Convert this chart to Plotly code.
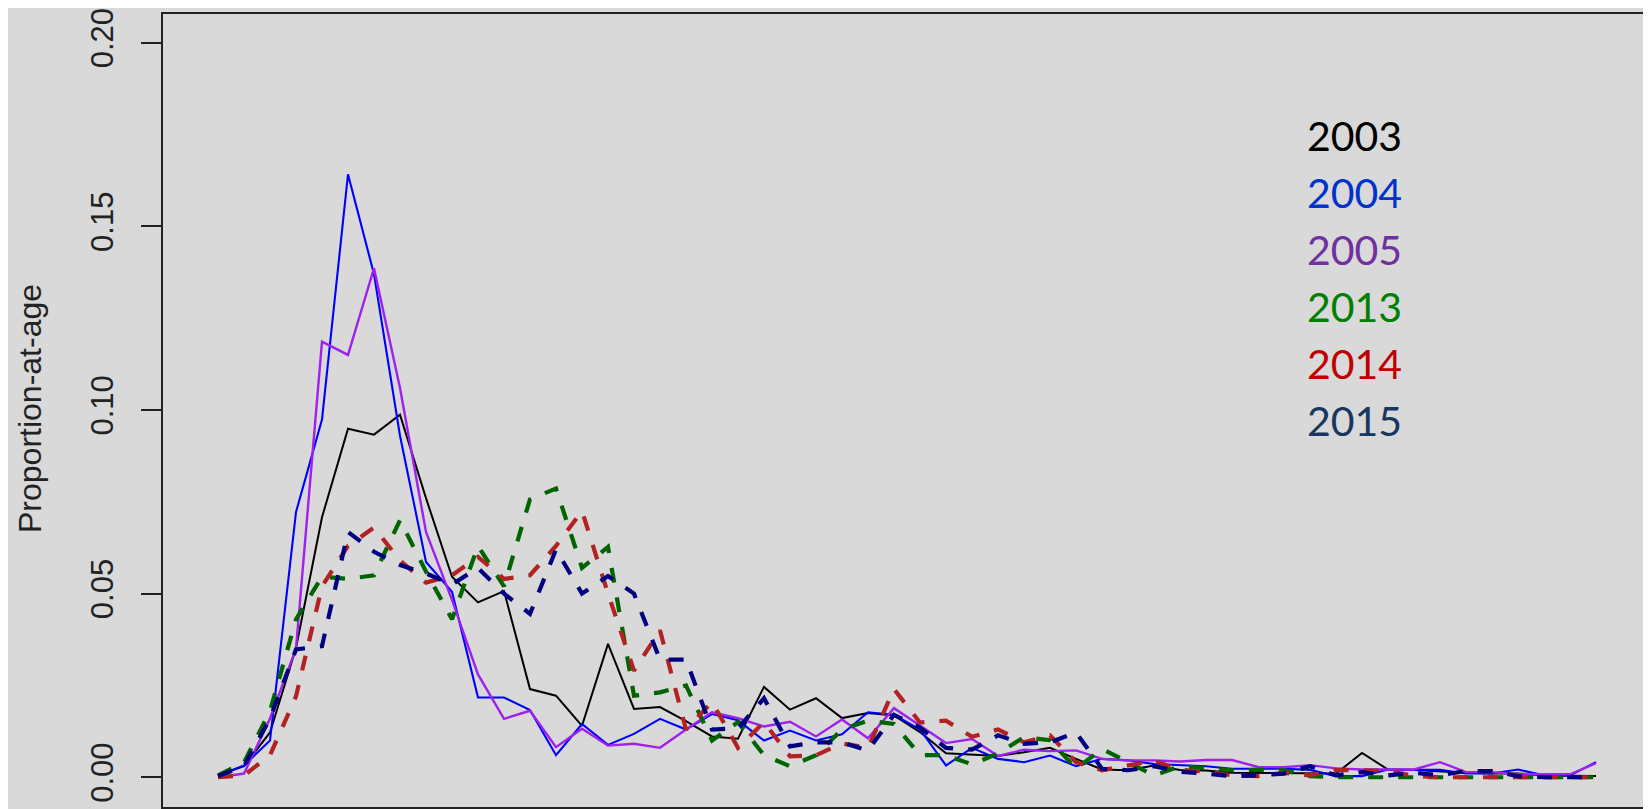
import plotly.graph_objects as go

ages = list(range(1, 55))

y2003 = [0.0005, 0.003, 0.0122, 0.0352, 0.0708, 0.0949, 0.0933, 0.0987, 0.076, 0.0546,
         0.0476, 0.0507, 0.024, 0.0222, 0.014, 0.0363, 0.0186, 0.0191, 0.0153, 0.0111,
         0.0105, 0.0246, 0.0184, 0.0215, 0.0161, 0.0175, 0.0168, 0.0123, 0.0065, 0.0062,
         0.0058, 0.0068, 0.008, 0.005, 0.0021, 0.0019, 0.0032, 0.002, 0.0018, 0.0012,
         0.0012, 0.0012, 0.0012, 0.001, 0.0066, 0.0021, 0.002, 0.0015, 0.0012, 0.001,
         0.001, 0.0005, 0.0005, 0.0003]

y2004 = [0.0005, 0.0032, 0.010, 0.0722, 0.0974, 0.1642, 0.137, 0.093, 0.0586, 0.0505,
         0.0217, 0.0217, 0.0183, 0.006, 0.0145, 0.0088, 0.0118, 0.0159, 0.013, 0.0172,
         0.0155, 0.010, 0.0127, 0.010, 0.0117, 0.0177, 0.017, 0.013, 0.0032, 0.008,
         0.005, 0.0041, 0.0059, 0.003, 0.005, 0.0046, 0.0036, 0.0032, 0.003, 0.0023,
         0.0023, 0.0023, 0.002, 0.0003, 0.0003, 0.0021, 0.002, 0.002, 0.001, 0.001,
         0.0021, 0.0005, 0.0005, 0.0041]

y2005 = [0.0, 0.001, 0.016, 0.035, 0.1186, 0.115, 0.1386, 0.106, 0.0668, 0.0483,
         0.028, 0.0159, 0.0181, 0.0082, 0.0132, 0.0086, 0.0091, 0.008, 0.013, 0.0177,
         0.0161, 0.0138, 0.0151, 0.0111, 0.0157, 0.0106, 0.0188, 0.014, 0.0093, 0.0104,
         0.0058, 0.0075, 0.0071, 0.0073, 0.005, 0.0046, 0.0046, 0.0043, 0.0047, 0.0047,
         0.0028, 0.0027, 0.0033, 0.0024, 0.0021, 0.0021, 0.0021, 0.0041, 0.0014, 0.0014,
         0.0008, 0.0008, 0.0008, 0.0038]

y2013 = [0.0005, 0.004, 0.018, 0.043, 0.0546, 0.054, 0.055, 0.070, 0.056, 0.043,
         0.063, 0.052, 0.0757, 0.0786, 0.057, 0.0627, 0.0222, 0.0231, 0.025, 0.010,
         0.015, 0.006, 0.003, 0.006, 0.013, 0.0154, 0.0145, 0.006, 0.006, 0.0035,
         0.0065, 0.0109, 0.0101, 0.0023, 0.0077, 0.0042, 0.0005, 0.003, 0.0025, 0.0019,
         0.002, 0.0019, 0.0003, 0.0, 0.0, 0.0, 0.0, 0.0, 0.0, 0.0,
         0.0, 0.0, 0.0, 0.0]

y2014 = [0.0, 0.0005, 0.006, 0.022, 0.052, 0.063, 0.068, 0.059, 0.053, 0.055,
         0.060, 0.054, 0.055, 0.063, 0.0725, 0.050, 0.029, 0.040, 0.013, 0.0205,
         0.008, 0.015, 0.0057, 0.006, 0.0092, 0.008, 0.024, 0.0149, 0.0154, 0.011,
         0.013, 0.0095, 0.0114, 0.0041, 0.0019, 0.0032, 0.0045, 0.002, 0.0015, 0.0005,
         0.0003, 0.0012, 0.0005, 0.002, 0.002, 0.0018, 0.0003, 0.0, 0.0, 0.0,
         0.0, 0.0, 0.0, 0.0]

y2015 = [0.0003, 0.003, 0.016, 0.0348, 0.0357, 0.0668, 0.0614, 0.0578, 0.0555, 0.0525,
         0.057, 0.050, 0.0445, 0.062, 0.050, 0.0548, 0.050, 0.032, 0.032, 0.013,
         0.0133, 0.0215, 0.0084, 0.0095, 0.0095, 0.0073, 0.017, 0.0135, 0.008, 0.0075,
         0.0114, 0.0091, 0.0095, 0.0122, 0.0023, 0.0019, 0.003, 0.0015, 0.001, 0.0003,
         0.0005, 0.001, 0.003, 0.0005, 0.0014, 0.0005, 0.0012, 0.0005, 0.0017, 0.0017,
         0.0003, 0.0, 0.0, 0.0]

years = ["2003", "2004", "2005", "2013", "2014", "2015"]
line_colors = ["#000000", "#0000FF", "#A020F0", "#006400", "#B22222", "#000080"]
label_colors = ["#000000", "#0033CC", "#7030A0", "#008000", "#C00000", "#17375E"]
yticks = [0.0, 0.05, 0.10, 0.15, 0.20]
ytick_text = ["0.00", "0.05", "0.10", "0.15", "0.20"]

series = [y2003, y2004, y2005, y2013, y2014, y2015]
widths = [2.0, 2.1, 2.4, 4.2, 4.2, 4.2]
dashes = ["solid", "solid", "solid", "15px,15px", "15px,15px", "15px,15px"]

# The page body adds an 8px offset; plot-area edges given in page pixels.
OFF = 8
PAGE_W, PAGE_H = 1651, 809
PL, PR, PT, PB = 163, 1651, 8, 807          # plot area on the page
W, H = PAGE_W - OFF, PAGE_H - OFF           # figure size
ML, MR, MT, MB = PL - OFF, 0, PT - OFF, (OFF + H) - PB
PW, PH = PR - PL, PB - PT

# data mapping: age 1 at page x=218, 26 px per year; 0.00 at page y=777, 3700 px per unit
X0, DX = 218, 26
Y0, DY = 777, 3700
xr = [1 + (PL - X0) / DX, 1 + (PR - X0) / DX]
yr = [(Y0 - PB) / DY, (Y0 - PT) / DY]

fig = go.Figure()
for name, ys, c, w, d in zip(years, series, line_colors, widths, dashes):
    fig.add_trace(go.Scatter(x=ages, y=ys, mode="lines", name=name,
                             line=dict(color=c, width=w, dash=d),
                             hoverinfo="skip"))

def px_x(px):
    return (px - PL) / PW

def px_y(py):
    return (PB - py) / PH

label_y = [131, 188.5, 246, 303.5, 361, 418.5]
for name, col, py in zip(years, label_colors, label_y):
    fig.add_annotation(text=name, xref="paper", yref="paper",
                       x=px_x(1305), y=px_y(py - 1), xanchor="left", yanchor="middle",
                       showarrow=False,
                       font=dict(family="Lato, Open Sans, sans-serif", size=41, color=col))

fig.add_annotation(text="Proportion-at-age", xref="paper", yref="paper",
                   x=px_x(30), y=px_y(406), xanchor="center", yanchor="middle",
                   textangle=-90, showarrow=False,
                   font=dict(family="Liberation Sans, Arial, sans-serif", size=32, color="#222222"))

fig.update_layout(
    width=W, height=H, autosize=False,
    margin=dict(l=ML, r=MR, t=MT, b=MB, pad=0),
    paper_bgcolor="#d9d9d9", plot_bgcolor="#d9d9d9",
    showlegend=False, hovermode=False,
    xaxis=dict(range=xr, showticklabels=False, ticks="",
               showgrid=False, zeroline=False, showline=True, mirror=True,
               linecolor="#222222", linewidth=2),
    yaxis=dict(range=yr, tickvals=yticks, ticktext=ytick_text,
               tickangle=-90, ticks="outside", ticklen=20, tickwidth=2, tickcolor="#222222",
               ticklabelstandoff=16, ticklabeloverflow="allow",
               tickfont=dict(family="Liberation Sans, Arial, sans-serif", size=31, color="#222222"),
               showgrid=False, zeroline=False, showline=True, mirror=False,
               linecolor="#222222", linewidth=2),
)

fig.write_html("out.html", config={"displayModeBar": False})
